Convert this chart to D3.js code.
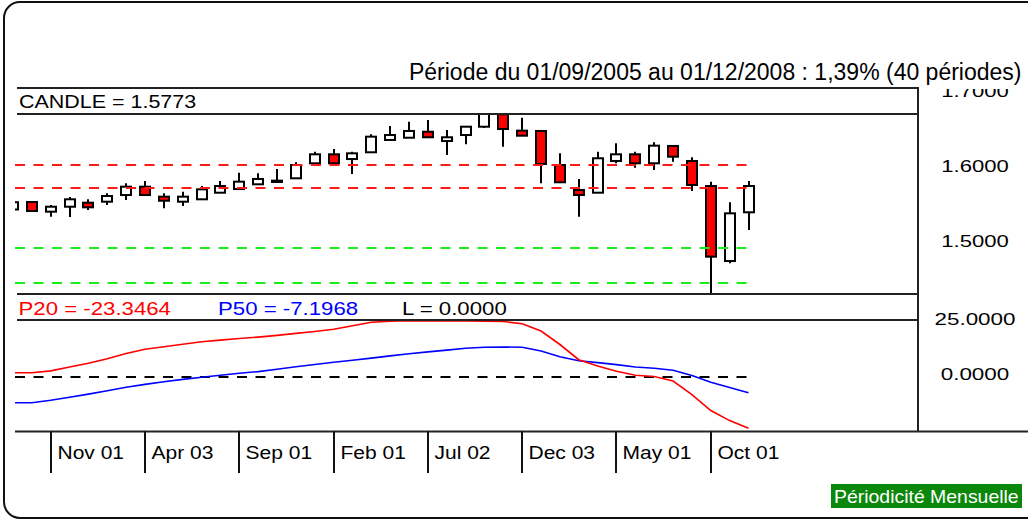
<!DOCTYPE html>
<html>
<head>
<meta charset="utf-8">
<script src="https://cdn.jsdelivr.net/npm/d3@7"></script>
<style>
  html, body { margin: 0; padding: 0; background: #fff; }
  svg { display: block; }
  text { font-family: "Liberation Sans", Arial, sans-serif; fill: #000; }
</style>
</head>
<body>
<div id="chart"></div>
<script>
// monthly periods 01/09/2005 .. 01/12/2008 (40 periods)
const periods = d3.range(40);

const open = [1.5460, 1.5560, 1.5431, 1.5497, 1.5551, 1.5564, 1.5653, 1.5764, 1.5631, 1.5564,
  1.5596, 1.5684, 1.5733, 1.5796, 1.5827, 1.5876, 1.6076, 1.6196, 1.6133, 1.6223,
  1.6387, 1.6417, 1.6497, 1.6373, 1.6453, 1.6564, 1.6729, 1.6511, 1.6507, 1.6053,
  1.5720, 1.5684, 1.6107, 1.6196, 1.6076, 1.6307, 1.6107, 1.5773, 1.4773, 1.5423];
const high = [1.5575, 1.5573, 1.5520, 1.5627, 1.5596, 1.5676, 1.5809, 1.5840, 1.5676, 1.5697,
  1.5773, 1.5840, 1.5951, 1.5943, 1.6000, 1.6089, 1.6231, 1.6267, 1.6231, 1.6463,
  1.6573, 1.6631, 1.6653, 1.6520, 1.6567, 1.6780, 1.6735, 1.6684, 1.6510, 1.6209,
  1.5867, 1.6231, 1.6343, 1.6231, 1.6356, 1.6310, 1.6156, 1.5831, 1.5556, 1.5840];
const low = [1.5440, 1.5427, 1.5364, 1.5360, 1.5453, 1.5520, 1.5587, 1.5650, 1.5476, 1.5507,
  1.5590, 1.5680, 1.5730, 1.5793, 1.5825, 1.5873, 1.6073, 1.6073, 1.5933, 1.6220,
  1.6385, 1.6415, 1.6420, 1.6187, 1.6329, 1.6547, 1.6297, 1.6440, 1.5809, 1.5820,
  1.5364, 1.5680, 1.6076, 1.6017, 1.5987, 1.6097, 1.5707, 1.4300, 1.4743, 1.5187];
const close = [1.5557, 1.5440, 1.5497, 1.5596, 1.5489, 1.5640, 1.5764, 1.5653, 1.5577, 1.5631,
  1.5729, 1.5773, 1.5831, 1.5867, 1.5845, 1.6053, 1.6196, 1.6076, 1.6209, 1.6431,
  1.6453, 1.6507, 1.6423, 1.6423, 1.6564, 1.6760, 1.6533, 1.6444, 1.6067, 1.5823,
  1.5653, 1.6143, 1.6196, 1.6076, 1.6311, 1.6164, 1.5787, 1.4831, 1.5409, 1.5773];

const p20 = [1.95, 1.95, 2.77, 4.55, 6.23, 8.32, 10.68, 12.64, 13.77, 14.91,
  16.0, 16.77, 17.5, 18.14, 18.91, 19.82, 20.68, 21.73, 23.32, 24.86,
  25.4, 25.6, 25.5, 25.6, 25.5, 25.4, 25.2, 24.23, 20.91, 14.77,
  7.86, 5.0, 2.64, 0.77, 0.23, -1.82, -8.0, -15.23, -19.82, -23.3464];
const p50 = [-11.68, -11.68, -10.59, -9.23, -7.77, -6.23, -4.68, -3.36, -2.14, -1.09,
  -0.09, 0.82, 1.68, 2.45, 3.5, 4.64, 5.68, 6.68, 7.59, 8.59,
  9.59, 10.55, 11.41, 12.23, 13.05, 13.5, 13.64, 13.5, 11.82, 9.18,
  7.41, 6.55, 5.64, 4.55, 3.95, 3.05, 0.68, -2.36, -4.73, -7.1968];

const resistance = [1.6053, 1.5753];
const support = [1.4947, 1.4480];
const levelL = [0];

const priceTicks = [1.7, 1.6, 1.5];
const oscTicks = [25, 0];
const tickIndex = [2, 7, 12, 17, 22, 27, 32, 37];
const tickLabels = ['Nov 01', 'Apr 03', 'Sep 01', 'Feb 01', 'Jul 02', 'Dec 03', 'May 01', 'Oct 01'];

const width = 1028;
const height = 521;
const left = 15;
const right = 918;

const svg = d3.select('#chart')
  .append('svg')
    .attr('width', width)
    .attr('height', height);

const defs = svg.append('defs');
defs.append('clipPath').attr('id', 'priceClip')
  .append('rect').attr('x', left).attr('y', 114).attr('width', right - left).attr('height', 180);
defs.append('clipPath').attr('id', 'oscClip')
  .append('rect').attr('x', left).attr('y', 320.5).attr('width', right - left).attr('height', 111);
defs.append('clipPath').attr('id', 'labelClip')
  .append('rect').attr('x', right).attr('y', 89).attr('width', 120).attr('height', 400);

const x = d3.scaleLinear().domain([0, 39]).range([13, 748.5]);
const yPrice = d3.scaleLinear().domain([1.5, 1.7]).range([244, 94]);
const yOsc = d3.scaleLinear().domain([-25, 25]).range([432, 322]);

// widen glyphs horizontally, the source font is broader than Arial
function stretch(sel, k) {
  sel.each(function() {
    const len = this.getComputedTextLength();
    d3.select(this).attr('textLength', len * k).attr('lengthAdjust', 'spacingAndGlyphs');
  });
}

// outer rounded frame
svg.append('rect')
  .attr('x', 4).attr('y', 2)
  .attr('width', 1100).attr('height', 516)
  .attr('rx', 16)
  .attr('fill', 'none')
  .attr('stroke', '#111')
  .attr('stroke-width', 2);

// candles
const candles = periods.map(i => ({i, o: open[i], h: high[i], l: low[i], c: close[i]}));
const gPrice = svg.append('g').attr('clip-path', 'url(#priceClip)');

gPrice.selectAll('line.wick')
  .data(candles)
  .join('line')
    .attr('class', 'wick')
    .attr('x1', d => Math.round(x(d.i)))
    .attr('x2', d => Math.round(x(d.i)))
    .attr('y1', d => yPrice(d.h))
    .attr('y2', d => yPrice(d.l))
    .attr('stroke', '#000')
    .attr('stroke-width', 2);

gPrice.selectAll('rect.body')
  .data(candles)
  .join('rect')
    .attr('class', 'body')
    .attr('x', d => Math.round(x(d.i)) - 5)
    .attr('width', 10)
    .attr('y', d => yPrice(Math.max(d.o, d.c)))
    .attr('height', d => Math.max(1, Math.abs(yPrice(d.o) - yPrice(d.c))))
    .attr('fill', d => d.c >= d.o ? '#fff' : '#ff0000')
    .attr('stroke', '#000')
    .attr('stroke-width', 2);

function levelLines(g, values, color, scale) {
  g.append('g')
    .selectAll('line')
    .data(values)
    .join('line')
      .attr('x1', left)
      .attr('x2', x(39))
      .attr('y1', d => Math.round(scale(d)))
      .attr('y2', d => Math.round(scale(d)))
      .attr('stroke', color)
      .attr('stroke-width', 2)
      .attr('stroke-dasharray', '10,8.5');
}

levelLines(gPrice, resistance, '#ff1a1a', yPrice);
levelLines(gPrice, support, '#1aee1a', yPrice);

// oscillators
const gOsc = svg.append('g').attr('clip-path', 'url(#oscClip)');
const line = d3.line()
  .x((d, i) => x(i))
  .y(d => yOsc(d));

levelLines(gOsc, levelL, '#000', yOsc);

gOsc.append('path')
  .datum(p50)
  .attr('d', line)
  .attr('fill', 'none')
  .attr('stroke', '#0000ff')
  .attr('stroke-width', 1.6);

gOsc.append('path')
  .datum(p20)
  .attr('d', line)
  .attr('fill', 'none')
  .attr('stroke', '#ff0000')
  .attr('stroke-width', 1.6);

// panel frames
const frame = svg.append('g')
  .attr('stroke', '#222')
  .attr('stroke-width', 2);

[88, 114, 294, 320].forEach(y => {
  frame.append('line')
    .attr('x1', 17).attr('x2', right + 1)
    .attr('y1', y).attr('y2', y);
});
frame.append('line')
  .attr('x1', left).attr('x2', width)
  .attr('y1', 431.5).attr('y2', 431.5);
frame.append('line')
  .attr('x1', right).attr('x2', right)
  .attr('y1', 87).attr('y2', 432);

// time axis separators and labels
const gx = svg.append('g');
gx.selectAll('line')
  .data(tickIndex)
  .join('line')
    .attr('x1', d => Math.round(x(d)))
    .attr('x2', d => Math.round(x(d)))
    .attr('y1', 431)
    .attr('y2', 473)
    .attr('stroke', '#111')
    .attr('stroke-width', 2);
gx.selectAll('text')
  .data(tickIndex)
  .join('text')
    .attr('x', d => Math.round(x(d)) + 6.5)
    .attr('y', 459)
    .attr('font-size', '17.5px')
    .text((d, i) => tickLabels[i])
    .call(stretch, 1.2);

// value axes
const gy = svg.append('g').attr('clip-path', 'url(#labelClip)');
gy.selectAll('text.price')
  .data(priceTicks)
  .join('text')
    .attr('class', 'price')
    .attr('x', 975)
    .attr('y', d => yPrice(d) + 2.5)
    .attr('text-anchor', 'middle')
    .attr('font-size', '16px')
    .text(d => d.toFixed(4))
    .call(stretch, 1.38);
gy.selectAll('text.osc')
  .data(oscTicks)
  .join('text')
    .attr('class', 'osc')
    .attr('x', 975)
    .attr('y', d => yOsc(d) + 2.5)
    .attr('text-anchor', 'middle')
    .attr('font-size', '16px')
    .text(d => d.toFixed(4))
    .call(stretch, 1.4);

// headers
svg.append('text')
  .attr('x', 1021.5)
  .attr('y', 80)
  .attr('text-anchor', 'end')
  .attr('font-size', '23px')
  .text('Période du 01/09/2005 au 01/12/2008 : 1,39% (40 périodes)');

svg.append('text')
  .attr('x', 19)
  .attr('y', 108)
  .attr('font-size', '18.5px')
  .text('CANDLE = ' + close[39].toFixed(4))
  .call(stretch, 1.16);

const legend = [
  {x: 18.5, color: '#ff0000', label: 'P20 = ' + p20[39].toFixed(4)},
  {x: 218, color: '#0000ff', label: 'P50 = ' + p50[39].toFixed(4)},
  {x: 402, color: '#000', label: 'L = ' + levelL[0].toFixed(4)}
];
svg.append('g')
  .selectAll('text')
  .data(legend)
  .join('text')
    .attr('x', d => d.x)
    .attr('y', 315)
    .attr('font-size', '18.5px')
    .style('fill', d => d.color)
    .text(d => d.label)
    .call(stretch, 1.2);

// periodicity badge
svg.append('rect')
  .attr('x', 831).attr('y', 484)
  .attr('width', 191).attr('height', 24)
  .attr('fill', '#0b870b');
svg.append('text')
  .attr('x', 834)
  .attr('y', 503)
  .attr('font-size', '18.5px')
  .style('fill', '#fff')
  .text('Périodicité Mensuelle')
  .call(stretch, 1.05);
</script>
</body>
</html>
